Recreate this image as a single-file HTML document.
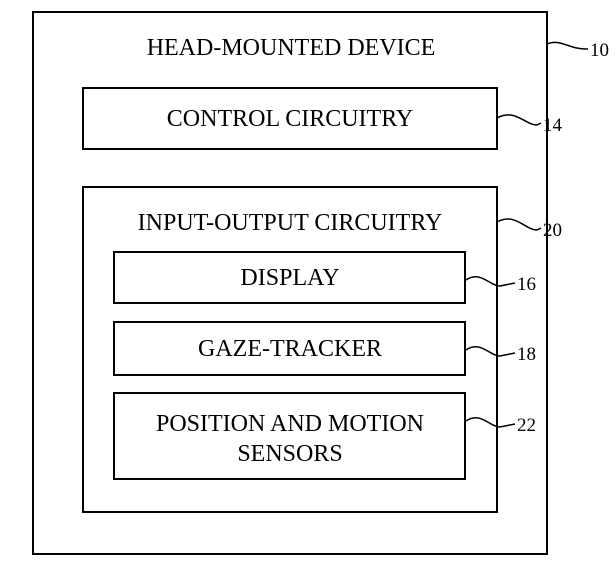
<!DOCTYPE html>
<html><head><style>
body{margin:0;background:#fff;}
svg{display:block;}
text{font-family:"Liberation Serif",serif;font-size:24px;fill:#000;}
.n{font-size:19px;}
</style></head><body>
<svg width="615" height="567" viewBox="0 0 615 567">
<g fill="none" stroke="#000" stroke-width="2">
<rect x="33" y="12" width="514" height="542"/>
<rect x="83" y="88" width="414" height="61"/>
<rect x="83" y="187" width="414" height="325"/>
<rect x="114" y="252" width="351" height="51"/>
<rect x="114" y="322" width="351" height="53"/>
<rect x="114" y="393" width="351" height="86"/>
</g>
<g fill="none" stroke="#000" stroke-width="1.5">
<path d="M547,44 C560,38 570,50 588,49"/>
<path d="M497,118 C515,108 525,125 537,125 L541,123"/>
<path d="M497,222 C515,212 525,230 537,230 L541,228"/>
<path d="M466,280 C480,270 490,286 500,286 L515,283"/>
<path d="M466,350 C480,340 490,356 500,356 L515,353"/>
<path d="M466,421 C480,411 490,427 500,427 L515,424"/>
</g>
<text x="291" y="55" text-anchor="middle">HEAD-MOUNTED DEVICE</text>
<text x="290" y="126" text-anchor="middle">CONTROL CIRCUITRY</text>
<text x="290" y="230" text-anchor="middle">INPUT-OUTPUT CIRCUITRY</text>
<text x="290" y="285" text-anchor="middle">DISPLAY</text>
<text x="290" y="356" text-anchor="middle">GAZE-TRACKER</text>
<text x="290" y="431" text-anchor="middle">POSITION AND MOTION</text>
<text x="290" y="461" text-anchor="middle">SENSORS</text>
<text class="n" x="590" y="56">10</text>
<text class="n" x="543" y="131">14</text>
<text class="n" x="543" y="236">20</text>
<text class="n" x="517" y="290">16</text>
<text class="n" x="517" y="360">18</text>
<text class="n" x="517" y="431">22</text>
</svg>
</body></html>
